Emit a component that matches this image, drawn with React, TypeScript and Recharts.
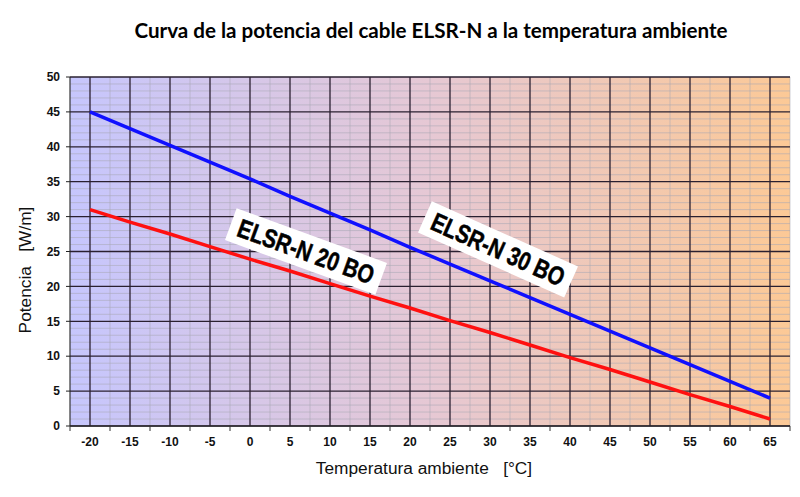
import React from 'react';
import { LineChart, Line, XAxis, YAxis, CartesianGrid, ReferenceDot } from 'recharts';

const categories = [-20, -15, -10, -5, 0, 5, 10, 15, 20, 25, 30, 35, 40, 45, 50, 55, 60, 65];
const boundaries = [-22.5, -17.5, -12.5, -7.5, -2.5, 2.5, 7.5, 12.5, 17.5, 22.5, 27.5, 32.5, 37.5, 42.5, 47.5, 52.5, 57.5, 62.5, 67.5];
const elsr30 = [45, 42.6, 40.2, 37.8, 35.4, 32.9, 30.5, 28.1, 25.6, 23.2, 20.8, 18.4, 16.0, 13.6, 11.2, 8.8, 6.4, 4];
const elsr20 = [31, 29.2, 27.5, 25.7, 23.9, 22.2, 20.4, 18.6, 16.9, 15.1, 13.4, 11.6, 9.8, 8.1, 6.3, 4.5, 2.8, 1];
const yTicks = [0, 5, 10, 15, 20, 25, 30, 35, 40, 45, 50];
const yMinor = [1, 2, 3, 4, 6, 7, 8, 9, 11, 12, 13, 14, 16, 17, 18, 19, 21, 22, 23, 24, 26, 27, 28, 29, 31, 32, 33, 34, 36, 37, 38, 39, 41, 42, 43, 44, 46, 47, 48, 49];

const labelTexts = ['ELSR-N 20 BO', 'ELSR-N 30 BO'];
const labelX = [7, 31];
const labelY = [25, 25.3];
const labelAngle = [20, 24];

const title = 'Curva de la potencia del cable ELSR-N a la temperatura ambiente';
const xTitle = 'Temperatura ambiente   [°C]';
const yTitle = 'Potencia   [W/m]';

const ARIAL = "Arial, 'Liberation Sans', Helvetica, sans-serif";

const data = categories.map((t, i) => ({ t, p30: elsr30[i], p20: elsr20[i] }));
const allXTicks = [...boundaries, ...categories].sort((a, b) => a - b);

const XTick = (props: any) => {
  const { x, y, payload } = props;
  const v = payload.value;
  if (categories.includes(v)) {
    return (
      <text x={x} y={y + 20} textAnchor="middle" fontFamily={ARIAL} fontWeight="bold" fontSize={12} fill="#111">
        {v}
      </text>
    );
  }
  return <line x1={x} x2={x} y1={y} y2={y + 5} stroke="#333" strokeWidth={1} />;
};

const makeLabel = (i: number) => (props: any) => {
  const { cx, cy } = props;
  return (
    <g transform={`translate(${cx},${cy}) rotate(${labelAngle[i]})`}>
      <rect x={-80} y={-17} width={160} height={34} fill="#ffffff" />
      <g transform="scale(0.8,1)">
        <text x={0} y={9} textAnchor="middle" fontFamily={ARIAL} fontWeight="bold" fontSize={26} fill="#000" stroke="#000" strokeWidth={0.5}>
          {labelTexts[i]}
        </text>
      </g>
    </g>
  );
};

export default function App() {
  return (
    <div style={{ position: 'absolute', left: 0, top: 0, width: 800, height: 497, background: '#fff' }}>
      <div style={{ position: 'absolute', left: 431, top: 30, transform: 'translate(-50%,-50%)', whiteSpace: 'nowrap', fontFamily: 'Lato, Calibri, sans-serif', fontWeight: 'bold', fontSize: 20.6, color: '#000' }}>
        {title}
      </div>
      <div style={{ position: 'absolute', left: 424, top: 468, transform: 'translate(-50%,-50%)', whiteSpace: 'pre', fontFamily: ARIAL, fontSize: 17.3, color: '#111' }}>
        {xTitle}
      </div>
      <div style={{ position: 'absolute', left: 25, top: 270, transform: 'translate(-50%,-50%) rotate(-90deg)', whiteSpace: 'pre', fontFamily: ARIAL, fontSize: 17.3, color: '#111' }}>
        {yTitle}
      </div>
      <LineChart width={800} height={497} data={data} margin={{ top: 77, right: 10, bottom: 41, left: 30 }} style={{ position: 'absolute', left: 0, top: 0 }}>
        <defs>
          <linearGradient id="bgGrad" x1="0" y1="0" x2="1" y2="0">
            <stop offset="0%" stopColor="#c6c6fd" />
            <stop offset="50%" stopColor="#e6c8d4" />
            <stop offset="100%" stopColor="#fcc996" />
          </linearGradient>
        </defs>
        <CartesianGrid fill="url(#bgGrad)" stroke="#a8a8b4" strokeOpacity={0.55} strokeWidth={1} horizontalValues={yMinor} verticalValues={boundaries} />
        <CartesianGrid stroke="#2a2030" strokeWidth={1.3} horizontalValues={yTicks} verticalValues={categories} />
        <XAxis dataKey="t" type="number" domain={[-22.5, 67.5]} ticks={allXTicks} interval={0} tick={<XTick />} tickLine={false} tickSize={0} tickMargin={0} axisLine={{ stroke: '#222' }} height={30} allowDataOverflow />
        <YAxis type="number" domain={[0, 50]} ticks={yTicks} interval={0} tickSize={4} tickMargin={6} tickLine={{ stroke: '#222' }} axisLine={{ stroke: '#222' }} width={40} tick={{ fontFamily: ARIAL, fontWeight: 'bold', fontSize: 12, fill: '#111' }} />
        <Line type="linear" dataKey="p30" stroke="#1010ff" strokeWidth={3.5} dot={false} isAnimationActive={false} />
        <Line type="linear" dataKey="p20" stroke="#ff1010" strokeWidth={3.5} dot={false} isAnimationActive={false} />
        {labelTexts.map((t, i) => (
          <ReferenceDot key={t} x={labelX[i]} y={labelY[i]} r={0} shape={makeLabel(i)} />
        ))}
      </LineChart>
    </div>
  );
}
